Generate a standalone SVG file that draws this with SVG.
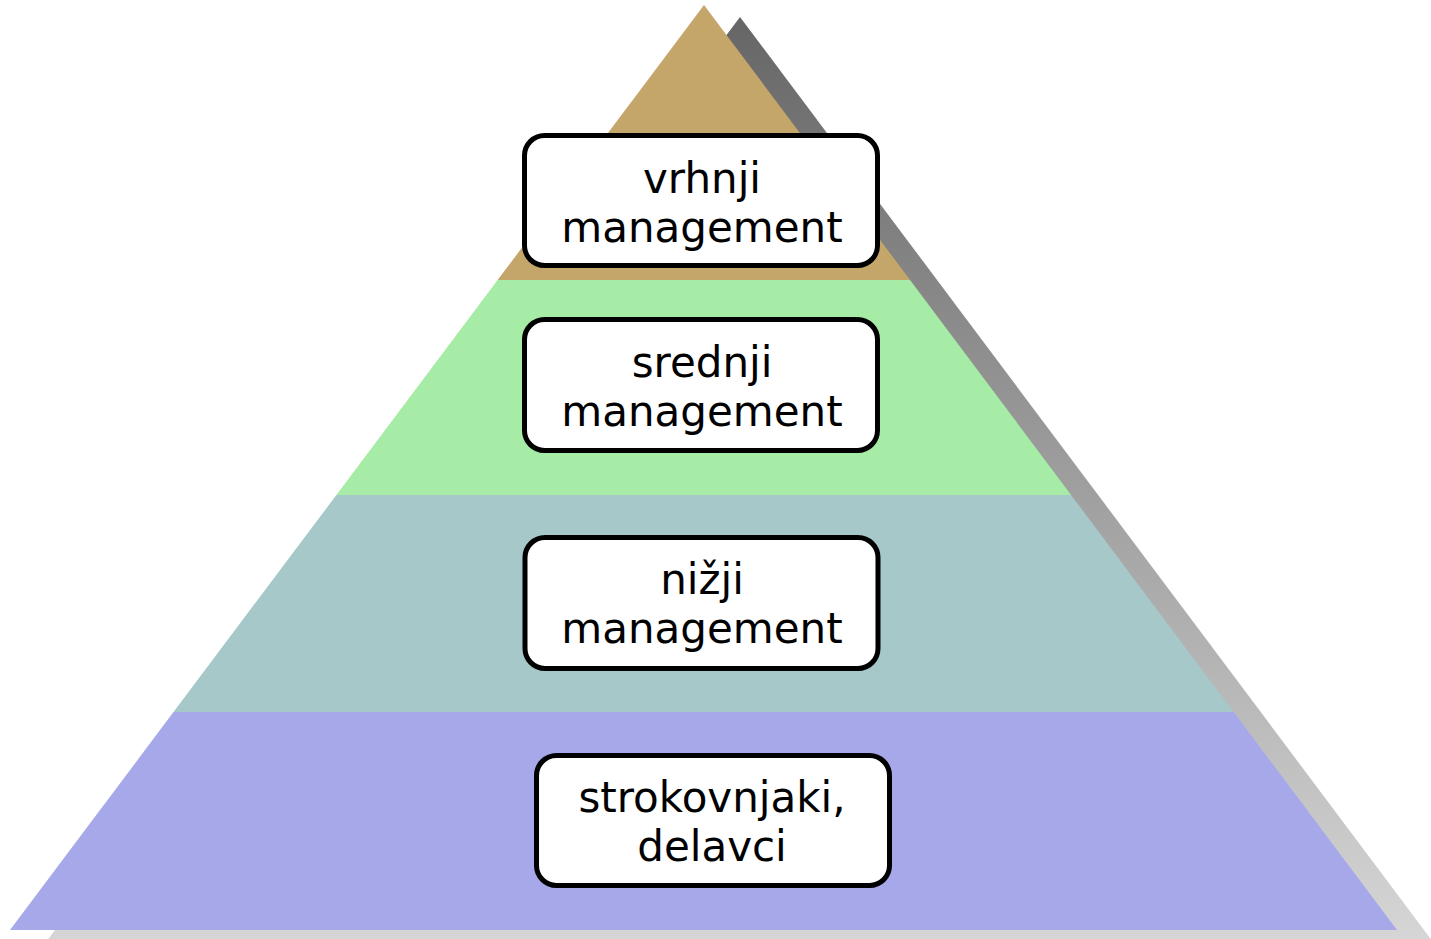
<svg xmlns="http://www.w3.org/2000/svg" width="1431" height="939" viewBox="0 0 1431 939">
<style>
.box{fill:#ffffff;stroke:#000000;stroke-width:5}
.lbl{font-family:"DejaVu Sans","Verdana",sans-serif;font-size:42px;fill:#000000;text-anchor:middle}
</style>
<defs>
<linearGradient id="shadowGrad" x1="0" y1="0" x2="0" y2="1">
<stop offset="0" stop-color="#666666"/>
<stop offset="1" stop-color="#d6d6d6"/>
</linearGradient>
<clipPath id="pyr">
<polygon points="704,5 10,930 1397,930"/>
</clipPath>
</defs>
<rect width="1431" height="939" fill="#ffffff"/>
<g id="pyramid">
<polygon points="740,17 46,942 1433,942" fill="url(#shadowGrad)"/>
<g clip-path="url(#pyr)">
<rect x="0" y="0" width="1431" height="280" fill="#c5a66a"/>
<rect x="0" y="280" width="1431" height="215" fill="#a6eba6"/>
<rect x="0" y="495" width="1431" height="217" fill="#a6c8c8"/>
<rect x="0" y="712" width="1431" height="220" fill="#a6a8ea"/>
</g>
</g>
<g id="connectors"></g>
<g id="node-vrhnji">
<rect class="box" x="524.5" y="135.5" width="353" height="130" rx="20"/>
<text class="lbl" x="702" y="193">vrhnji</text>
<text class="lbl" x="702" y="242">management</text>
</g>
<g id="node-srednji">
<rect class="box" x="524.5" y="319.5" width="353" height="131" rx="20"/>
<text class="lbl" x="702" y="377">srednji</text>
<text class="lbl" x="702" y="426">management</text>
</g>
<g id="node-nizji">
<rect class="box" x="525" y="537.5" width="353" height="131" rx="20"/>
<text class="lbl" x="702" y="594">nižji</text>
<text class="lbl" x="702" y="643">management</text>
</g>
<g id="node-strokovnjaki">
<rect class="box" x="536.5" y="755.5" width="353" height="130" rx="20"/>
<text class="lbl" x="712" y="812">strokovnjaki,</text>
<text class="lbl" x="712" y="861">delavci</text>
</g>
</svg>
